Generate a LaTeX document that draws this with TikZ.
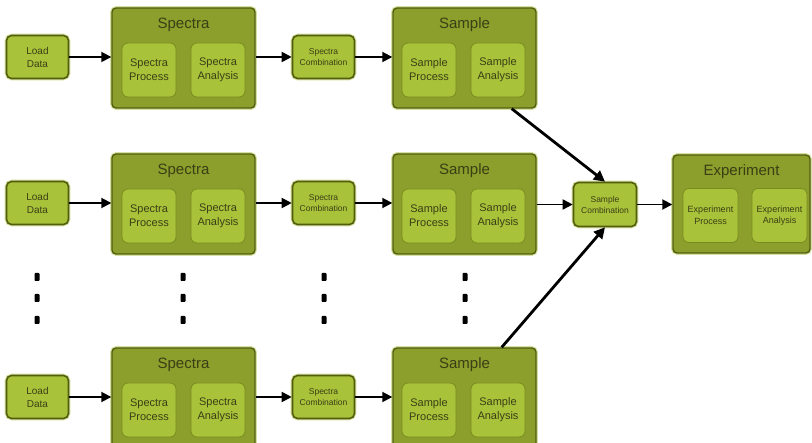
\documentclass[tikz,border=0pt]{standalone}
\usepackage{fontspec}
\setmainfont{Liberation Sans}
\usetikzlibrary{arrows.meta,calc}
\definecolor{outerfill}{HTML}{8C9E2B}
\definecolor{innerfill}{HTML}{A8C23A}
\definecolor{edge}{HTML}{525E0E}
\definecolor{inneredge}{HTML}{7A8C20}
\definecolor{halo}{HTML}{D6DFA0}
\definecolor{ink}{HTML}{3A3F16}
\begin{document}
\begin{tikzpicture}[x=1pt,y=-1pt,
  halo/.style={preaction={draw=halo,line width=3.6pt}},
  outerbox/.style={halo,draw=edge,line width=1.4pt,fill=outerfill,
    rounded corners=4pt,minimum width=143pt,minimum height=100pt,inner sep=0pt},
  innerbox/.style={draw=inneredge,line width=0.8pt,fill=innerfill,
    rounded corners=6pt,minimum width=54pt,minimum height=54pt,inner sep=0pt,
    text=ink,align=center,font=\fontsize{11}{14}\selectfont},
  smallbox/.style={halo,draw=edge,line width=1.6pt,fill=innerfill,
    rounded corners=5pt,minimum width=62pt,minimum height=43pt,inner sep=0pt,
    text=ink,align=center,font=\fontsize{10}{13}\selectfont},
  combbox/.style={smallbox,font=\fontsize{8.5}{11}\selectfont},
  boxtitle/.style={text=ink,font=\fontsize{15}{18}\selectfont,inner sep=0pt},
  rowarrow/.style={draw=black,line width=1.8pt,-{Triangle[length=10pt,width=10pt]}},
  joinarrow/.style={draw=black,line width=2.8pt,-{Triangle[length=11pt,width=11pt]}},
  dot/.style={fill=black,rounded corners=0.8pt}
]
\useasboundingbox (0,0) rectangle (812,443);

% three processing rows: load, spectra block, combination, sample block
\foreach \r/\t in {1/8,2/154,3/348}{
  \node[smallbox] (ld\r) at (37.5,\t+49) {Load\\Data};
  \node[outerbox] (sp\r) at (183.5,\t+50) {};
  \node[boxtitle] (spt\r) at (183.5,\t+17) {Spectra};
  \node[innerbox] (spp\r) at (149,\t+62) {Spectra\\Process};
  \node[innerbox] (spa\r) at (218,\t+62) {Spectra\\Analysis};
  \node[combbox] (sc\r) at (323.5,\t+49) {Spectra\\Combination};
  \node[outerbox] (sa\r) at (464.5,\t+50) {};
  \node[boxtitle] (sat\r) at (464.5,\t+17) {Sample};
  \node[innerbox] (sap\r) at (429,\t+62) {Sample\\Process};
  \node[innerbox] (saa\r) at (498,\t+62) {Sample\\Analysis};
  \draw[rowarrow] (ld\r.east) -- (sp\r.west |- ld\r.east);
  \draw[rowarrow] (sp\r.east |- sc\r.west) -- (sc\r.west);
  \draw[rowarrow] (sc\r.east) -- (sa\r.west |- sc\r.east);
}

% gathering step and the experiment block
\node[combbox,minimum width=63pt,minimum height=44pt] (smc) at (605,204.5) {Sample\\Combination};
\node[outerbox,minimum width=137pt,minimum height=98pt] (ex) at (741.5,204) {};
\node[boxtitle] (ext) at (741.5,172) {Experiment};
\node[innerbox,minimum width=55pt,font=\fontsize{9}{11.5}\selectfont] (exp) at (710.5,215.5) {Experiment\\Process};
\node[innerbox,minimum width=55pt,font=\fontsize{9}{11.5}\selectfont] (exa) at (779.5,215.5) {Experiment\\Analysis};

\draw[joinarrow] ([xshift=-25pt]sa1.south east) -- (smc.north);
\draw[rowarrow] (sa2.east |- smc.west) -- (smc.west);
\draw[joinarrow] ([xshift=-35pt]sa3.north east) -- (smc.south);
\draw[rowarrow] (smc.east) -- (ex.west |- smc.east);

% vertical ellipsis between the second and last rows
\foreach \x in {37,183,324,465}{
  \foreach \y in {277,298,320}{
    \fill[dot] (\x-2.5,\y-4) rectangle (\x+2.5,\y+4);
  }
}
\end{tikzpicture}
\end{document}
